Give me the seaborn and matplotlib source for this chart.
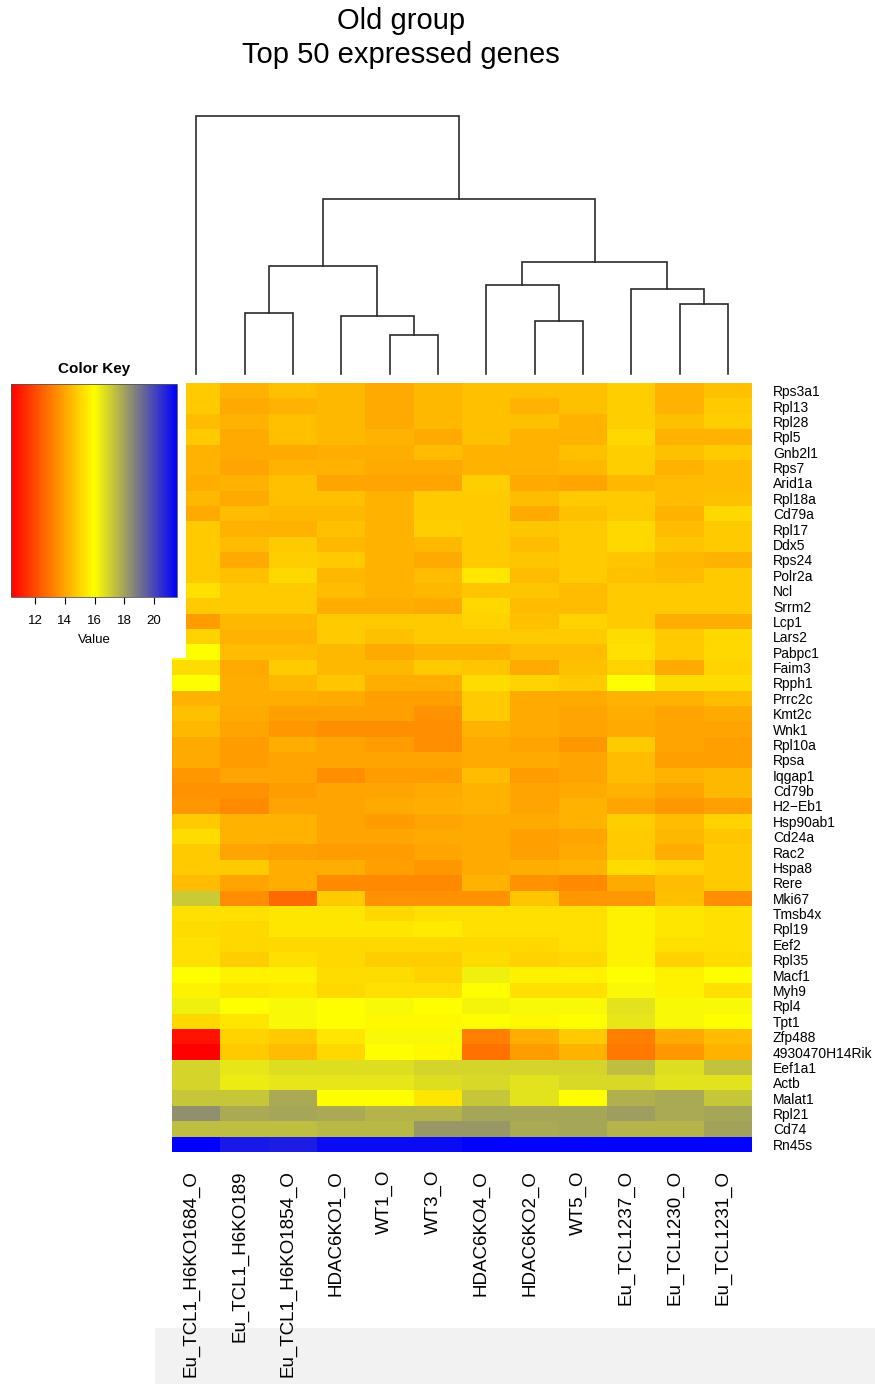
import numpy as np
import pandas as pd
import matplotlib
matplotlib.use("Agg")
import matplotlib.pyplot as plt
import seaborn as sns
from matplotlib.colors import LinearSegmentedColormap, Normalize
from matplotlib.cm import ScalarMappable
from matplotlib.patches import Rectangle
from matplotlib.transforms import ScaledTranslation

plt.rcParams['font.family'] = ['Liberation Sans', 'DejaVu Sans']

# ---------------- data ----------------
samples = ["Eu_TCL1_H6KO1684_O", "Eu_TCL1_H6KO189", "Eu_TCL1_H6KO1854_O", "HDAC6KO1_O",
           "WT1_O", "WT3_O", "HDAC6KO4_O", "HDAC6KO2_O", "WT5_O",
           "Eu_TCL1237_O", "Eu_TCL1230_O", "Eu_TCL1231_O"]

genes = ["Rps3a1", "Rpl13", "Rpl28", "Rpl5", "Gnb2l1", "Rps7", "Arid1a", "Rpl18a", "Cd79a",
         "Rpl17", "Ddx5", "Rps24", "Polr2a", "Ncl", "Srrm2", "Lcp1", "Lars2", "Pabpc1", "Faim3",
         "Rpph1", "Prrc2c", "Kmt2c", "Wnk1", "Rpl10a", "Rpsa", "Iqgap1", "Cd79b", "H2\u2212Eb1",
         "Hsp90ab1", "Cd24a", "Rac2", "Hspa8", "Rere", "Mki67", "Tmsb4x", "Rpl19", "Eef2",
         "Rpl35", "Macf1", "Myh9", "Rpl4", "Tpt1", "Zfp488", "4930470H14Rik", "Eef1a1", "Actb",
         "Malat1", "Rpl21", "Cd74", "Rn45s"]

values = [
    [14.8, 14.3, 14.6, 14.4, 14.1, 14.4, 14.6, 14.6, 14.6, 14.9, 14.3, 14.6],
    [14.8, 14.1, 14.3, 14.4, 14.1, 14.4, 14.6, 14.3, 14.6, 14.9, 14.3, 14.8],
    [14.5, 14.3, 14.6, 14.4, 14.1, 14.4, 14.6, 14.6, 14.3, 14.9, 14.6, 14.9],
    [14.8, 14.1, 14.6, 14.4, 14.3, 14.1, 14.6, 14.3, 14.3, 15.1, 14.3, 14.3],
    [14.3, 14.1, 14.1, 14.2, 14.2, 14.5, 14.3, 14.3, 14.6, 14.9, 14.6, 14.8],
    [14.3, 14.0, 14.3, 14.3, 14.1, 14.1, 14.3, 14.3, 14.4, 14.9, 14.3, 14.5],
    [14.2, 14.3, 14.6, 14.0, 14.0, 14.0, 14.9, 14.1, 14.0, 14.4, 14.5, 14.5],
    [14.4, 14.1, 14.6, 14.6, 14.3, 14.8, 14.8, 14.5, 14.8, 14.8, 14.5, 14.6],
    [14.1, 14.5, 14.4, 14.4, 14.3, 14.8, 14.8, 14.1, 14.6, 14.8, 14.3, 15.1],
    [14.8, 14.3, 14.3, 14.6, 14.3, 14.9, 14.8, 14.7, 14.8, 15.1, 14.5, 14.8],
    [14.8, 14.5, 14.8, 14.4, 14.3, 14.4, 14.8, 14.5, 14.8, 15.1, 14.7, 14.8],
    [14.8, 14.1, 14.9, 14.8, 14.3, 14.1, 14.8, 14.7, 14.8, 14.7, 14.4, 14.3],
    [14.8, 14.6, 15.1, 14.4, 14.3, 14.5, 15.4, 14.5, 14.8, 14.6, 14.5, 14.8],
    [15.3, 14.8, 14.8, 14.5, 14.3, 14.4, 14.7, 14.7, 14.5, 14.8, 14.8, 14.8],
    [14.8, 14.8, 14.8, 14.2, 14.2, 14.1, 15.1, 14.5, 14.5, 14.8, 14.8, 14.8],
    [13.8, 14.4, 14.4, 14.8, 14.8, 14.8, 15.0, 14.6, 15.0, 14.8, 14.2, 14.2],
    [15.0, 14.3, 14.3, 14.8, 14.6, 14.8, 14.8, 14.8, 14.8, 15.2, 14.8, 15.1],
    [16.0, 14.5, 14.5, 14.4, 14.1, 14.3, 14.3, 14.5, 14.5, 15.3, 14.8, 15.1],
    [15.2, 14.1, 14.8, 14.4, 14.4, 14.8, 14.7, 14.1, 14.6, 15.0, 14.1, 15.0],
    [16.0, 14.2, 14.4, 14.7, 14.2, 14.2, 15.2, 15.0, 14.8, 16.0, 15.2, 15.2],
    [14.3, 14.2, 14.2, 14.1, 13.9, 13.9, 14.8, 14.1, 14.1, 14.3, 14.3, 14.5],
    [14.6, 14.1, 13.9, 13.9, 13.9, 13.6, 14.8, 14.1, 14.0, 14.2, 14.0, 14.1],
    [14.4, 14.0, 13.7, 13.5, 13.5, 13.5, 14.3, 14.1, 14.0, 14.1, 14.0, 14.0],
    [14.1, 13.8, 14.2, 14.0, 13.8, 13.5, 14.1, 14.0, 13.7, 14.8, 14.0, 13.9],
    [14.1, 13.8, 14.0, 14.0, 14.0, 14.0, 14.1, 14.1, 14.0, 14.5, 13.9, 13.9],
    [13.7, 14.0, 14.0, 13.5, 13.8, 13.8, 14.5, 13.8, 14.0, 14.5, 14.3, 14.4],
    [13.6, 13.6, 13.8, 14.0, 14.0, 14.1, 14.3, 14.0, 14.1, 14.3, 14.0, 14.4],
    [13.7, 13.4, 14.0, 14.0, 14.1, 14.2, 14.3, 14.0, 14.3, 14.0, 13.7, 13.9],
    [14.8, 14.3, 14.3, 14.0, 13.8, 14.0, 14.1, 14.1, 14.3, 14.9, 14.5, 15.0],
    [15.2, 14.3, 14.3, 14.0, 14.0, 14.1, 14.1, 13.9, 14.0, 14.8, 14.4, 14.7],
    [14.8, 14.0, 13.9, 13.8, 13.8, 14.0, 14.1, 13.9, 14.1, 14.8, 14.2, 14.8],
    [14.8, 14.8, 14.2, 14.2, 13.9, 13.7, 14.1, 14.2, 14.3, 15.2, 15.0, 14.8],
    [14.5, 14.0, 14.2, 13.4, 13.4, 13.4, 14.3, 13.6, 13.4, 14.1, 14.5, 14.8],
    [17.1, 13.5, 12.7, 14.8, 13.6, 13.6, 13.6, 14.7, 13.7, 13.7, 14.6, 13.5],
    [15.3, 15.3, 15.4, 15.4, 15.1, 15.3, 15.3, 15.3, 15.3, 15.7, 15.4, 15.3],
    [15.2, 15.1, 15.4, 15.4, 15.4, 15.5, 15.3, 15.3, 15.3, 15.7, 15.4, 15.3],
    [15.3, 15.1, 15.1, 15.1, 15.1, 15.1, 15.1, 15.1, 15.3, 15.7, 15.3, 15.3],
    [15.3, 14.9, 15.3, 15.1, 14.9, 14.9, 15.2, 15.0, 15.1, 15.7, 15.0, 15.2],
    [16.0, 15.7, 15.7, 15.2, 15.2, 15.0, 16.3, 15.7, 15.7, 16.0, 15.7, 16.0],
    [15.7, 15.4, 15.5, 15.1, 15.3, 15.3, 16.0, 15.3, 15.3, 16.1, 15.7, 15.3],
    [16.3, 16.0, 16.1, 16.0, 16.1, 16.0, 16.2, 16.1, 16.1, 16.6, 16.1, 16.1],
    [15.1, 15.4, 16.1, 16.0, 15.8, 15.8, 16.0, 15.8, 16.0, 16.5, 16.1, 16.0],
    [10.8, 15.0, 14.8, 15.4, 16.1, 16.1, 13.2, 14.2, 14.8, 13.2, 14.1, 14.5],
    [10.4, 14.8, 14.5, 15.1, 16.0, 15.8, 12.9, 13.8, 14.3, 13.0, 13.7, 14.3],
    [16.9, 16.5, 16.7, 16.7, 16.7, 16.9, 16.9, 16.9, 16.9, 17.4, 16.7, 17.3],
    [16.9, 16.4, 16.5, 16.5, 16.5, 16.7, 16.8, 16.6, 16.8, 16.8, 16.6, 16.6],
    [17.2, 17.2, 17.8, 16.0, 16.0, 15.4, 17.2, 16.6, 16.0, 17.7, 17.8, 17.2],
    [18.4, 17.8, 17.9, 17.8, 17.6, 17.6, 17.9, 17.9, 17.9, 18.1, 17.8, 17.9],
    [17.4, 17.4, 17.4, 17.5, 17.5, 18.2, 18.2, 17.8, 17.9, 17.6, 17.6, 18.0],
    [21.6, 21.0, 20.9, 21.3, 21.3, 21.3, 21.5, 21.5, 21.5, 21.5, 21.5, 21.5],
]

# column dendrogram: (left child, right child, merge height); leaves 0..11, new nodes 12..
merges = [(4, 5, 39.3), (7, 8, 53.3), (3, 12, 57.7), (1, 2, 61.0), (10, 11, 69.7),
          (9, 16, 85.0), (6, 13, 89.3), (15, 14, 107.7), (18, 17, 112.3),
          (19, 20, 175.3), (0, 21, 258.3)]

key_ticks = [12, 14, 16, 18, 20]
vmin, vmax = 10.38, 21.55

# ---------------- figure ----------------
W, H = 875, 1384
fig = plt.figure(figsize=(W / 100, H / 100), dpi=100)


def box(x0, y0, x1, y1):
    return [x0 / W, 1 - y1 / H, (x1 - x0) / W, (y1 - y0) / H]


cmap = LinearSegmentedColormap.from_list("ryb", ["#FF0000", "#FFFF00", "#0000FF"], N=256)

# bottom light band
fig.patches.append(Rectangle((155 / W, 0), (W - 155) / W, 56 / H, transform=fig.transFigure,
                             facecolor="#f2f2f2", edgecolor="none", zorder=-5))

# heatmap
ax = fig.add_axes(box(172, 383, 752, 1152))
df = pd.DataFrame(values, index=genes, columns=samples)
sns.heatmap(df, ax=ax, cmap=cmap, vmin=vmin, vmax=vmax, cbar=False,
            xticklabels=True, yticklabels=True, linewidths=0)
ax.yaxis.tick_right()
ax.set_yticks(np.arange(len(genes)) + 0.5)
ax.set_yticklabels(genes, rotation=0, fontsize=10, ha="left")
ax.set_xticks(np.arange(len(samples)) + 0.5)
ax.set_xticklabels(samples, rotation=90, fontsize=13.5)
ax.tick_params(axis="y", length=0, pad=15)
ax.tick_params(axis="x", length=0, pad=13)
for lab in ax.get_xticklabels():
    lab.set_transform(lab.get_transform() + ScaledTranslation(-5 / 100, 0, fig.dpi_scale_trans))
ax.set_xlabel("")
ax.set_ylabel("")

# dendrogram
dax = fig.add_axes(box(172, 115.7, 752, 374))
dax.set_xlim(0, len(samples))
dax.set_ylim(0, merges[-1][2])
dax.axis("off")
node_x = {i: i + 0.5 for i in range(len(samples))}
node_h = {i: 0.0 for i in range(len(samples))}
for k, (a, b, h) in enumerate(merges):
    nid = len(samples) + k
    xa, xb = node_x[a], node_x[b]
    dax.plot([xa, xa, xb, xb], [node_h[a], h, h, node_h[b]], color="#2b2b2b",
             lw=1.2, clip_on=False, solid_joinstyle="miter")
    node_x[nid] = (xa + xb) / 2
    node_h[nid] = h

# colour key panel (white background covering corner)
pax = fig.add_axes(box(0, 352, 185.5, 657.5), zorder=5)
pax.set_facecolor("white")
pax.set_xticks([])
pax.set_yticks([])
for s in pax.spines.values():
    s.set_visible(False)

cax = fig.add_axes(box(11, 384, 177, 597), zorder=6)
sm = ScalarMappable(norm=Normalize(vmin=vmin, vmax=vmax), cmap=cmap)
cb = fig.colorbar(sm, cax=cax, orientation="horizontal")
cb.set_ticks(key_ticks)
cb.ax.tick_params(labelsize=9.5, length=5, width=0.8, pad=8)
cb.outline.set_linewidth(0.6)
cb.outline.set_edgecolor("#555555")
cb.set_label("Value", fontsize=9.5, labelpad=5)
fig.text(94 / W, 1 - 369 / H, "Color Key", ha="center", va="center", fontsize=11,
         fontweight="bold", zorder=7)

# title
fig.text(401 / W, 1 - 21 / H, "Old group", ha="center", va="center", fontsize=21)
fig.text(401 / W, 1 - 55 / H, "Top 50 expressed genes", ha="center", va="center", fontsize=21)

fig.savefig("out.png", dpi=100)
